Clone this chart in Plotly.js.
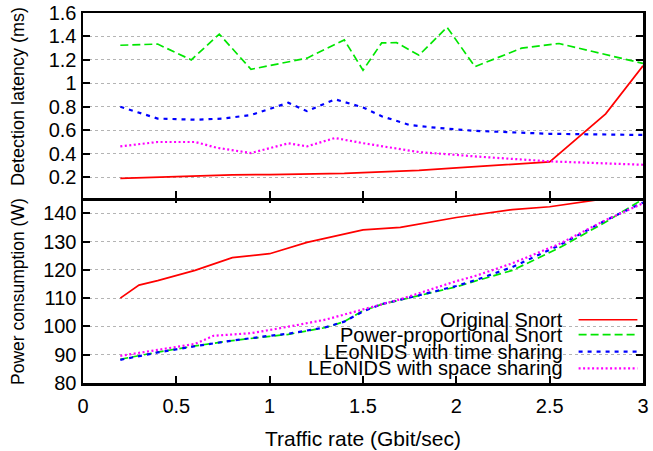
<!DOCTYPE html>
<html>
<head>
<meta charset="utf-8">
<script src="https://cdn.plot.ly/plotly-3.0.1.min.js"></script>
<style>html,body{margin:0;padding:0;background:#fff}#chart{width:653px;height:451px}</style>
</head>
<body>
<div id="chart"></div>
<script>
// ---- Data: detection latency (ms), top panel ----
const seriesNames = ["Original Snort", "Power-proportional Snort", "LEoNIDS with time sharing", "LEoNIDS with space sharing"];

const latOrigX = [0.2, 0.4, 0.6, 0.8, 1.0, 1.2, 1.4, 1.6, 1.8, 2.0, 2.2, 2.5, 2.8, 3.0];
const latOrigY = [0.19, 0.20, 0.215, 0.22, 0.222, 0.226, 0.232, 0.245, 0.258, 0.28, 0.30, 0.33, 0.74, 1.15];

const latPPX = [0.2, 0.4, 0.58, 0.73, 0.9, 1.2, 1.4, 1.5, 1.6, 1.68, 1.8, 1.95, 2.1, 2.35, 2.55, 3.0];
const latPPY = [1.325, 1.335, 1.20, 1.42, 1.12, 1.215, 1.37, 1.112, 1.345, 1.347, 1.24, 1.478, 1.143, 1.30, 1.34, 1.17];

const latTimeX = [0.2, 0.4, 0.6, 0.75, 0.9, 1.1, 1.2, 1.35, 1.5, 1.6, 1.75, 1.9, 2.1, 2.5, 3.0];
const latTimeY = [0.80, 0.70, 0.69, 0.70, 0.73, 0.835, 0.763, 0.864, 0.795, 0.72, 0.645, 0.62, 0.595, 0.57, 0.56];

const latSpaceX = [0.2, 0.4, 0.6, 0.72, 0.9, 1.1, 1.2, 1.35, 1.5, 1.65, 1.8, 2.0, 2.1, 2.5, 3.0];
const latSpaceY = [0.463, 0.50, 0.50, 0.45, 0.406, 0.489, 0.463, 0.534, 0.49, 0.455, 0.414, 0.39, 0.377, 0.335, 0.306];

// ---- Data: power consumption (W), bottom panel ----
const powOrigX = [0.2, 0.3, 0.4, 0.6, 0.8, 1.0, 1.2, 1.5, 1.7, 2.0, 2.3, 2.5, 2.8, 3.0];
const powOrigY = [110, 114.6, 116.2, 119.8, 124.3, 125.7, 129.7, 134.1, 135.0, 138.5, 141.3, 142.3, 145.2, 145.4];

const powPPX = [0.2, 0.4, 0.6, 0.8, 1.0, 1.1, 1.3, 1.4, 1.5, 1.6, 1.8, 2.0, 2.1, 2.3, 2.55, 2.8, 3.0];
const powPPY = [88.4, 90.9, 93.1, 95.0, 96.5, 97.2, 99.6, 101.7, 105.5, 107.8, 110.9, 114.0, 116.0, 119.8, 127.7, 136.9, 145.0];

const powTimeX = [0.2, 0.4, 0.6, 0.8, 1.0, 1.1, 1.3, 1.4, 1.5, 1.6, 1.8, 2.0, 2.1, 2.3, 2.55, 2.8, 3.0];
const powTimeY = [88.2, 90.8, 93.0, 95.0, 96.7, 97.4, 99.7, 101.7, 105.3, 107.9, 111.0, 114.3, 116.3, 121.0, 128.6, 137.5, 143.8];

const powSpaceX = [0.2, 0.4, 0.6, 0.7, 0.9, 1.1, 1.3, 1.5, 1.7, 2.0, 2.1, 2.3, 2.55, 2.8, 3.0];
const powSpaceY = [89.6, 91.6, 93.8, 96.7, 97.6, 99.9, 102.4, 106.0, 109.6, 116.0, 117.8, 122.3, 129.1, 137.6, 143.5];

// ---- Ticks & titles ----
const xTicks = [0, 0.5, 1, 1.5, 2, 2.5, 3];
const xTickText = ["0", "0.5", "1", "1.5", "2", "2.5", "3"];
const latTicks = [0.2, 0.4, 0.6, 0.8, 1.0, 1.2, 1.4, 1.6];
const latTickText = ["0.2", "0.4", "0.6", "0.8", "1", "1.2", "1.4", "1.6"];
const powTicks = [80, 90, 100, 110, 120, 130, 140];
const xTitle = "Traffic rate (Gbit/sec)";
const latTitle = "Detection latency (ms)";
const powTitle = "Power consumption (W)";

// ---- Styles ----
const styles = [
  {color: "#ff0000", width: 1.7, dash: "solid"},
  {color: "#00e600", width: 1.7, dash: "8px,4px"},
  {color: "#0000ff", width: 2.2, dash: "4px,5px"},
  {color: "#ff00ff", width: 2.2, dash: "2px,2.5px"}
];

const FONT = "Liberation Sans, Arial, Helvetica, sans-serif";

function tr(x, y, i, xa, ya) {
  return {x: x, y: y, type: "scatter", mode: "lines", name: seriesNames[i],
    xaxis: xa, yaxis: ya, showlegend: false, hoverinfo: "x+y+name",
    line: {color: styles[i].color, width: styles[i].width, dash: styles[i].dash}};
}

const data = [
  tr(latOrigX, latOrigY, 0, "x2", "y2"),
  tr(latPPX, latPPY, 1, "x2", "y2"),
  tr(latTimeX, latTimeY, 2, "x2", "y2"),
  tr(latSpaceX, latSpaceY, 3, "x2", "y2"),
  tr(powOrigX, powOrigY, 0, "x", "y"),
  tr(powPPX, powPPY, 1, "x", "y"),
  tr(powTimeX, powTimeY, 2, "x", "y"),
  tr(powSpaceX, powSpaceY, 3, "x", "y")
];

const axisCommon = {
  showline: true, linecolor: "#000", linewidth: 2.5,
  ticks: "inside", ticklen: 7, tickwidth: 2, tickcolor: "#000",
  zeroline: false, tickfont: {family: FONT, size: 20, color: "#000"}
};

// custom legend (symbols to the right of the text, as in the reference)
const legRowsY = [0.171, 0.1305, 0.085, 0.0395];
const annotations = [
  {xref: "paper", yref: "paper", x: -0.116, y: 0.773, text: latTitle, textangle: -90,
   showarrow: false, xanchor: "center", yanchor: "middle", font: {family: FONT, size: 18, color: "#000"}},
  {xref: "paper", yref: "paper", x: -0.116, y: 0.246, text: powTitle, textangle: -90,
   showarrow: false, xanchor: "center", yanchor: "middle", font: {family: FONT, size: 17.5, color: "#000"}}
];
const shapes = [
  {type: "rect", xref: "x", yref: "y", x0: 0.745, x1: 3, y0: 80, y1: 104.5,
   fillcolor: "#fff", line: {width: 0}, layer: "below"}
];
seriesNames.forEach((n, i) => {
  annotations.push({xref: "paper", yref: "paper", x: 0.861, y: legRowsY[i], text: n,
    showarrow: false, xanchor: "right", yanchor: "middle",
    font: {family: FONT, size: 20, color: "#000"}});
  shapes.push({type: "line", xref: "paper", yref: "paper", x0: 0.885, x1: 0.99,
    y0: legRowsY[i], y1: legRowsY[i],
    line: {color: styles[i].color, width: styles[i].width, dash: styles[i].dash}});
});

const layout = {
  width: 653, height: 451,
  margin: {l: 83, r: 10, t: 13, b: 68},
  paper_bgcolor: "#fff", plot_bgcolor: "#fff",
  font: {family: FONT, color: "#000"},
  showlegend: false,
  xaxis: Object.assign({}, axisCommon, {
    domain: [0, 1], anchor: "y", range: [0, 3], mirror: "ticks",
    tickvals: xTicks, ticktext: xTickText, showgrid: false, ticklabelstandoff: 3,
    title: {text: xTitle, font: {family: FONT, size: 21}, standoff: 16}
  }),
  yaxis: Object.assign({}, axisCommon, {
    domain: [0, 0.5062], anchor: "x", range: [80, 146.2], mirror: "ticks",
    tickvals: powTicks, showgrid: true, gridcolor: "#b4b4b4", gridwidth: 1, griddash: "dot"
  }),
  xaxis2: Object.assign({}, axisCommon, {
    domain: [0, 1], anchor: "y2", range: [0, 3], mirror: true, matches: "x",
    tickvals: xTicks, showticklabels: false, showgrid: false
  }),
  yaxis2: Object.assign({}, axisCommon, {
    domain: [0.4992, 1], anchor: "x2", range: [0.02, 1.6], mirror: "ticks",
    tickvals: latTicks, ticktext: latTickText,
    showgrid: true, gridcolor: "#b4b4b4", gridwidth: 1, griddash: "dot"
  }),
  annotations: annotations,
  shapes: shapes
};

Plotly.newPlot("chart", data, layout, {staticPlot: true, displayModeBar: false});
</script>
</body>
</html>
